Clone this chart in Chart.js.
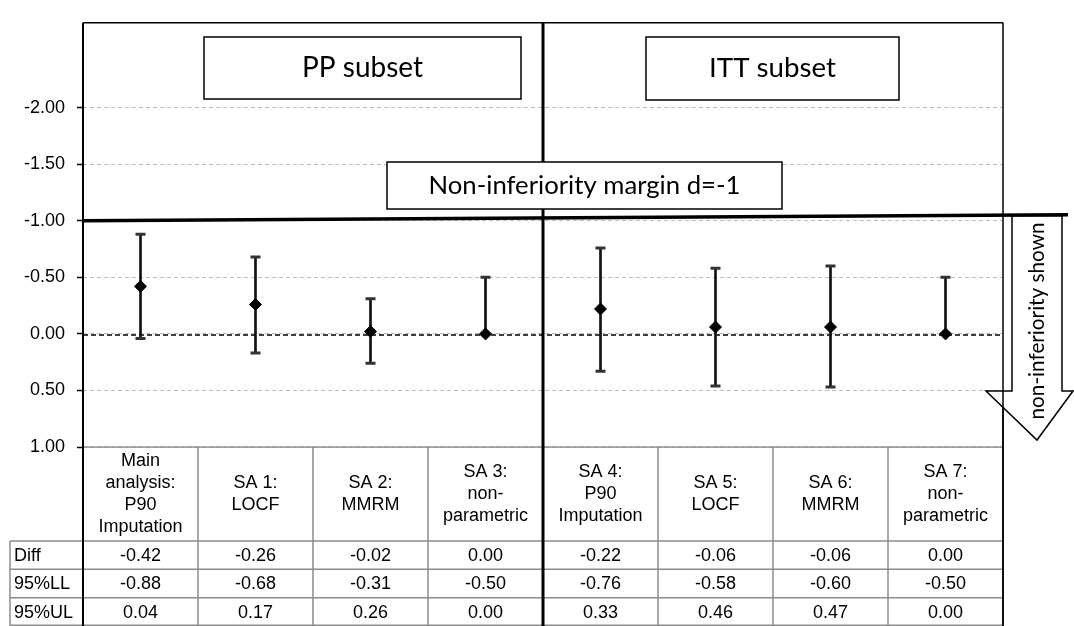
<!DOCTYPE html>
<html>
<head>
<meta charset="utf-8">
<script src="https://cdn.jsdelivr.net/npm/chart.js@4.4.0/dist/chart.umd.min.js"></script>
<style>
html,body{margin:0;padding:0;background:#fff}
#wrap{width:1074px;height:626px;position:relative}
</style>
</head>
<body>
<div id="wrap"><canvas id="canvas"></canvas></div>
<script>
let categories=[['Main','analysis:','P90','Imputation'],['SA 1:','LOCF'],['SA 2:','MMRM'],['SA 3:','non-','parametric'],['SA 4:','P90','Imputation'],['SA 5:','LOCF'],['SA 6:','MMRM'],['SA 7:','non-','parametric']]
let diff=[-0.42,-0.26,-0.02,0.00,-0.22,-0.06,-0.06,0.00]
let lower=[-0.88,-0.68,-0.31,-0.50,-0.76,-0.58,-0.60,-0.50]
let upper=[0.04,0.17,0.26,0.00,0.33,0.46,0.47,0.00]
let tickVals=[-2,-1.5,-1,-0.5,0,0.5,1]
let rowNames=['Diff','95%LL','95%UL']
let margin=-1

let canvas=document.getElementById('canvas')
let arial='"Liberation Sans", Arial, sans-serif'
let calibri='Lato, "Open Sans", sans-serif'

function line(ctx,x1,y1,x2,y2,color,w,dash) {
    ctx.save()
    ctx.strokeStyle=color
    ctx.lineWidth=w
    ctx.setLineDash(dash||[])
    ctx.beginPath()
    ctx.moveTo(x1,y1)
    ctx.lineTo(x2,y2)
    ctx.stroke()
    ctx.restore()
}

// text sized to fit a given width
function fitText(ctx,text,cx,cy,w,rot) {
    ctx.save()
    ctx.font='40px '+calibri
    let size=40*w/ctx.measureText(text).width
    ctx.font=size+'px '+calibri
    ctx.fillStyle='#000'
    ctx.textAlign='center'
    ctx.textBaseline='middle'
    ctx.translate(cx,cy)
    if (rot) ctx.rotate(rot)
    ctx.fillText(text,0,0)
    ctx.restore()
}

function box(ctx,x1,y1,x2,y2,text,tw) {
    ctx.save()
    ctx.fillStyle='#fff'
    ctx.fillRect(x1,y1,x2-x1,y2-y1)
    ctx.strokeStyle='#000'
    ctx.lineWidth=1.5
    ctx.strokeRect(x1,y1,x2-x1,y2-y1)
    ctx.restore()
    fitText(ctx,text,(x1+x2)/2,(y1+y2)/2,tw)
}

let zeroLine={
    id:'zeroLine',
    beforeDatasetsDraw(chart) {
        let a=chart.chartArea
        let y=chart.scales.y.getPixelForValue(0)+1
        line(chart.ctx,a.left,y,a.right,y,'#000',1.5,[5,3])
    }
}

let extras={
    id:'extras',
    afterDraw(chart) {
        let ctx=chart.ctx
        let a=chart.chartArea
        let xs=chart.scales.x
        let ys=chart.scales.y
        let H=chart.height
        let colW=(a.right-a.left)/categories.length
        let headBot=a.bottom+94
        let rowH=(H-headBot)/rowNames.length
        let gray='#8c8c8c'

        // table
        line(ctx,a.left,a.bottom,a.right,a.bottom,gray,1.5)
        for (let r=0;r<=rowNames.length;r++) {
            let y=Math.min(headBot+r*rowH,H-0.75)
            line(ctx,10,y,a.right,y,gray,1.5)
        }
        line(ctx,10,headBot,10,H,gray,1.5)
        for (let c=1;c<categories.length;c++) {
            let x=a.left+c*colW
            line(ctx,x,a.bottom,x,H,gray,1.5)
        }
        ctx.save()
        ctx.fillStyle='#000'
        ctx.font='18px '+arial
        ctx.textBaseline='middle'
        ctx.textAlign='center'
        categories.forEach((lab,i)=>{
            let cx=xs.getPixelForValue(i)
            let lh=21.7
            let y0=(a.bottom+headBot)/2-(lab.length-1)*lh/2
            lab.forEach((t,k)=>ctx.fillText(t,cx,y0+k*lh))
        })
        let rows=[diff,lower,upper]
        rows.forEach((vals,r)=>{
            let cy=headBot+(r+0.5)*rowH+1
            ctx.textAlign='left'
            ctx.fillText(rowNames[r],14,cy)
            ctx.textAlign='center'
            vals.forEach((v,i)=>ctx.fillText(v.toFixed(2),xs.getPixelForValue(i),cy))
        })
        ctx.restore()

        // frame
        line(ctx,a.left,a.top,a.right,a.top,'#000',1.5)
        line(ctx,a.right,a.top,a.right,H,'#000',1.5)
        line(ctx,a.left,a.top,a.left,H,'#000',2)
        let mid=a.left+colW*4
        line(ctx,mid,a.top,mid,H,'#000',3)

        // arrow
        let ym=ys.getPixelForValue(margin)
        ctx.save()
        ctx.beginPath()
        ctx.moveTo(1012,ym-5)
        ctx.lineTo(1062,ym-5)
        ctx.lineTo(1062,391)
        ctx.lineTo(1073,391)
        ctx.lineTo(1037,440)
        ctx.lineTo(986,391)
        ctx.lineTo(1012,391)
        ctx.closePath()
        ctx.fillStyle='#fff'
        ctx.fill()
        ctx.strokeStyle='#000'
        ctx.lineWidth=1.5
        ctx.stroke()
        ctx.restore()
        line(ctx,a.right,391,a.right,H,'#000',1.5)
        fitText(ctx,'non-inferiority shown',1037,321,197,-Math.PI/2)

        // margin line
        line(ctx,a.left,ym,1068,ym-6,'#000',3.5)

        // labels
        box(ctx,204,37,521,99,'PP subset',121)
        box(ctx,646,37,899,100,'ITT subset',127)
        box(ctx,387,162,782,209,'Non-inferiority margin d=-1',312)
    }
}

new Chart(canvas,{
    type:'bar',
    data:{
        labels:categories,
        datasets:[
            {
                label:'95% CI',
                data:lower.map((l,i)=>[l,upper[i]]),
                backgroundColor:'#111',
                barThickness:2,
                order:3
            },
            {
                type:'line',
                label:'95%LL',
                data:lower,
                showLine:false,
                pointStyle:'line',
                pointRadius:5,
                pointBorderWidth:3,
                pointBorderColor:'#333',
                order:2
            },
            {
                type:'line',
                label:'95%UL',
                data:upper,
                showLine:false,
                pointStyle:'line',
                pointRadius:5,
                pointBorderWidth:3,
                pointBorderColor:'#333',
                order:2
            },
            {
                type:'line',
                label:'Diff',
                data:diff,
                showLine:false,
                pointStyle:'rectRot',
                pointRadius:6,
                pointBackgroundColor:'#000',
                pointBorderColor:'#000',
                pointBorderWidth:1,
                order:1
            }
        ]
    },
    options:{
        responsive:true,
        maintainAspectRatio:false,
        animation:false,
        layout:{padding:{top:13,right:71,bottom:179,left:0}},
        plugins:{legend:{display:false},tooltip:{enabled:false}},
        scales:{
            x:{display:false},
            y:{
                reverse:true,
                min:-2.75,
                max:1,
                afterBuildTicks(scale) {
                    scale.ticks=tickVals.map(v=>({value:v}))
                },
                afterFit(scale) {
                    scale.width=83
                },
                border:{display:false,dash:[4,3]},
                grid:{color:'#bdbdbd',lineWidth:1,tickLength:6,tickColor:'#000',tickWidth:1.5},
                ticks:{
                    padding:12,
                    color:'#000',
                    font:{family:arial,size:18},
                    callback:v=>Number(v).toFixed(2)
                }
            }
        }
    },
    plugins:[zeroLine,extras]
})
</script>
</body>
</html>
